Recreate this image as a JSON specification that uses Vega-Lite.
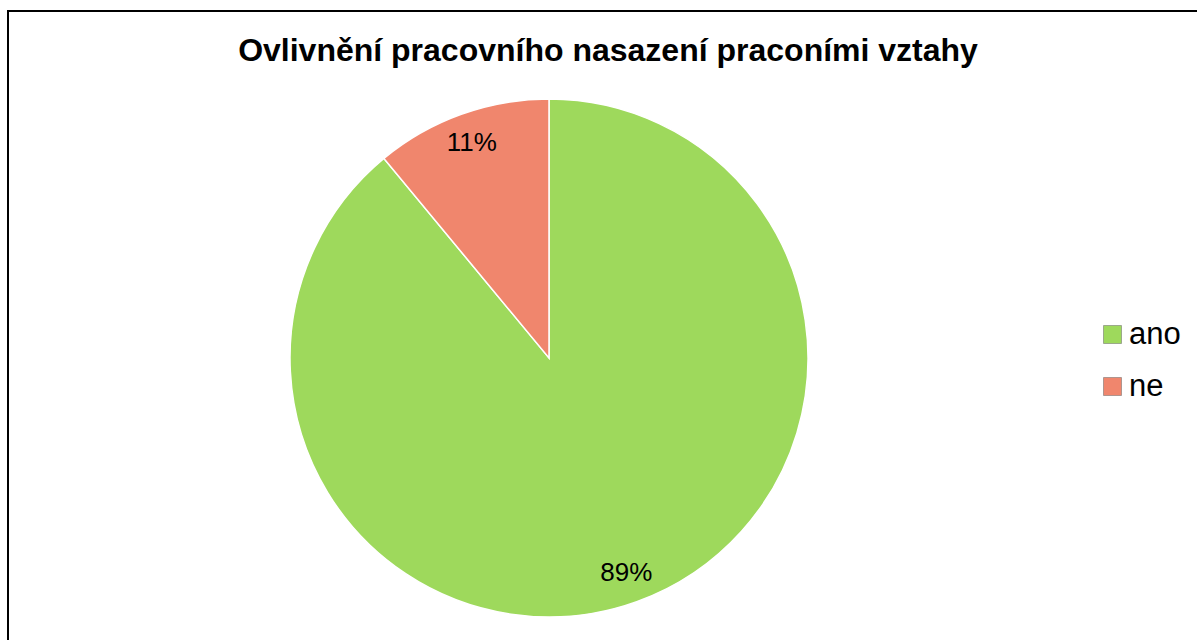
{
  "$schema": "https://vega.github.io/schema/vega-lite/v6.json",
  "autosize": "none",
  "width": 1200,
  "height": 640,
  "padding": {"left": 8, "top": 11, "right": 0, "bottom": 0},
  "background": "white",
  "view": {"stroke": "black", "strokeWidth": 2, "fill": "white"},
  "config": {
    "view": {"stroke": "black", "strokeWidth": 2},
    "font": "Liberation Sans"
  },
  "title": {
    "text": "Ovlivnění pracovního nasazení praconími vztahy",
    "anchor": "middle",
    "fontSize": 32,
    "fontWeight": "bold",
    "font": "Liberation Sans",
    "color": "black",
    "orient": "top",
    "baseline": "alphabetic",
    "offset": -82
  },
  "data": {
    "values": [
      {"kategorie": "ano", "podil": 89, "label": "89%"},
      {"kategorie": "ne", "podil": 11, "label": "11%"}
    ]
  },
  "encoding": {
    "theta": {"field": "podil", "type": "quantitative", "stack": true},
    "order": {"field": "kategorie", "sort": "ascending"}
  },
  "layer": [
    {
      "mark": {"type": "arc", "x": 541, "y": 347, "outerRadius": 259, "stroke": "#ffffff", "strokeWidth": 1.5},
      "encoding": {
        "color": {
          "field": "kategorie",
          "type": "nominal",
          "scale": {"domain": ["ano", "ne"], "range": ["#9ED95C", "#F0866D"]},
          "legend": {
            "title": null,
            "orient": "none",
            "legendX": 1089,
            "legendY": 308,
            "symbolType": "square",
            "symbolSize": 324,
            "symbolStrokeColor": "#666666",
            "symbolStrokeWidth": 0.5,
            "labelFontSize": 31,
            "labelFont": "Liberation Sans",
            "labelColor": "black",
            "rowPadding": 20,
            "labelOffset": 1
          }
        }
      }
    },
    {
      "mark": {"type": "text", "x": 541, "y": 347, "radius": 228, "fontSize": 26, "font": "Liberation Sans", "color": "black", "align": "center", "baseline": "middle"},
      "encoding": {
        "text": {"field": "label", "type": "nominal"}
      }
    }
  ]
}
